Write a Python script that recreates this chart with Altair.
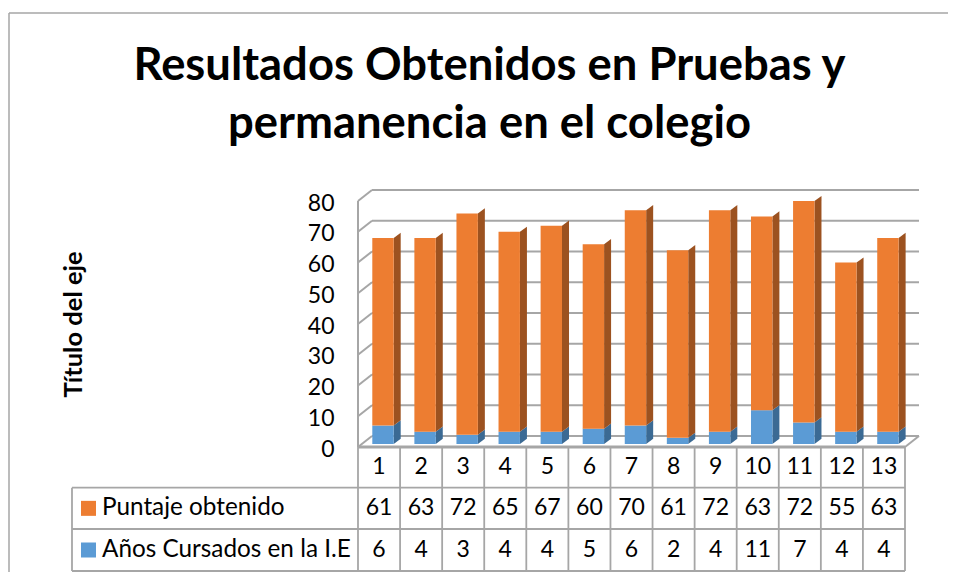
import altair as alt
import pandas as pd

categories = list(range(1, 14))
puntaje = [61, 63, 72, 65, 67, 60, 70, 61, 72, 63, 72, 55, 63]
anios = [6, 4, 3, 4, 4, 5, 6, 2, 4, 11, 7, 4, 4]
ticks = [0, 10, 20, 30, 40, 50, 60, 70, 80]
row_names = ["Puntaje obtenido", "Años Cursados en la I.E"]
title_lines = ["Resultados Obtenidos en  Pruebas y", "permanencia en el colegio"]
axis_title = "Título del eje"

# geometry
W, H = 547, 246
PXX = W / 13
PXY = H / 80
WALL_X, WALL_Y = 14 / PXX, 11 / PXY
BAR_L, BAR_W = 14.3 / PXX, 21.4 / PXX
D_X, D_Y = 7 / PXX, 5.2 / PXY
BASE = 3 / PXY
ROWS_PX = [0, 40.7, 82, 124]
ROW_Y = [-p / PXY for p in ROWS_PX]
ROW_C = [(ROW_Y[i] + ROW_Y[i + 1]) / 2 for i in range(3)]
LEFT_X = -286 / PXX
GREY = "#a6a6a6"
FONT = "Lato"
BLUE, ORANGE = "#5B9BD5", "#ED7D31"
X = alt.Scale(domain=[0, 13], nice=False, zero=False)
Y = alt.Scale(domain=[0, 80], nice=False, zero=False)
x_enc = alt.X("x:Q", scale=X, axis=None)
y_enc = alt.Y(
    "y:Q", scale=Y,
    axis=alt.Axis(
        values=ticks, title=axis_title, domain=False, ticks=False, grid=False,
        labelFont=FONT, labelFontSize=23, labelColor="#000000", labelPadding=24, labelOffset=2,
        titleFont=FONT, titleFontSize=25.5, titleFontWeight="bold", titleColor="#000000",
        titleX=-285, titleY=123, titleAngle=270, titleAlign="center", titleBaseline="middle",
    ),
)


def segs(rows):
    out = []
    for k, (x0, y0, x1, y1) in enumerate(rows):
        out += [dict(k=k, x=x0, y=y0), dict(k=k, x=x1, y=y1)]
    return pd.DataFrame(out)


def lines(rows, color, width):
    return alt.Chart(segs(rows)).mark_line(color=color, strokeWidth=width, clip=False).encode(
        x=x_enc, y=y_enc, detail="k:N", order="x:Q"
    )


# walls
wall_rows = [(WALL_X, t + WALL_Y, 13 + WALL_X, t + WALL_Y) for t in ticks]
wall_rows += [(0, t, WALL_X, t + WALL_Y) for t in ticks]
wall_rows += [(0, 0, 0, 80), (13, 0, 13 + WALL_X, WALL_Y)]
walls = lines(wall_rows, GREY, 2)

# table grid
table_rows = [(LEFT_X, r, 13, r) for r in ROW_Y[1:]]
table_rows += [(i, ROW_Y[0], i, ROW_Y[3]) for i in range(14)]
table_rows += [(LEFT_X, ROW_Y[1], LEFT_X, ROW_Y[3])]
table = lines(table_rows, GREY, 1.8)
floor_front = lines([(0, 0, 13, 0)], GREY, 3)

# outer frame
fx0, fx1 = -349 / PXX, 640 / PXX
fy0, fy1 = 434 / PXY, -170 / PXY
frame = lines([(fx0, fy0, fx1, fy0), (fx0, fy0, fx0, fy1)], GREY, 1.5)

# bars
totals = [a + p for a, p in zip(anios, puntaje)]


def faces(lows, highs):
    fronts, sides, tops = [], [], []
    for c, lo, hi in zip(categories, lows, highs):
        xl = c - 1 + BAR_L
        xr = xl + BAR_W
        yl, yh = lo + BASE, hi + BASE
        fronts.append(dict(x=xl, x2=xr, y=yl, y2=yh))
        sides += [
            dict(c=c, x=xr, y=yl, y2=yh),
            dict(c=c, x=xr + D_X, y=yl + D_Y, y2=yh + D_Y),
        ]
        tops += [
            dict(c=c, y=yh, x=xl, x2=xr),
            dict(c=c, y=yh + D_Y, x=xl + D_X, x2=xr + D_X),
        ]
    return pd.DataFrame(fronts), pd.DataFrame(sides), pd.DataFrame(tops)


def bar_layers(lows, highs, front, side, top=None):
    f, s, t = faces(lows, highs)
    out = [
        alt.Chart(s).mark_area(orient="vertical", clip=False, color=side).encode(
            x=x_enc, y=y_enc, y2="y2:Q", detail="c:N"
        )
    ]
    if top:
        out.append(
            alt.Chart(t).mark_area(orient="horizontal", clip=False, color=top).encode(
                y=y_enc, x=x_enc, x2="x2:Q", detail="c:N", order="y:Q"
            )
        )
    out.append(
        alt.Chart(f).mark_rect(color=front).encode(x=x_enc, x2="x2:Q", y=y_enc, y2="y2:Q")
    )
    return out


blue_layers = bar_layers([0] * 13, anios, BLUE, "#3B6A94")
orange_layers = bar_layers(anios, totals, ORANGE, "#9C5220", "#BC6020")

# table text
text_rows = []
for c in categories:
    text_rows.append(dict(x=c - 0.5, y=ROW_C[0], t=str(c)))
for c, p, a in zip(categories, puntaje, anios):
    text_rows.append(dict(x=c - 0.5, y=ROW_C[1], t=str(p)))
    text_rows.append(dict(x=c - 0.5, y=ROW_C[2], t=str(a)))
cells = alt.Chart(pd.DataFrame(text_rows)).mark_text(
    font=FONT, fontSize=23, color="#000000", align="center", baseline="middle", clip=False
).encode(x=x_enc, y=y_enc, text="t:N")

names = alt.Chart(pd.DataFrame({
    "x": [-256 / PXX, -256 / PXX], "y": ROW_C[1:], "t": row_names
})).mark_text(font=FONT, fontSize=24.3, color="#000000", align="left", baseline="middle").encode(
    x=x_enc, y=y_enc, text="t:N"
)

title_text = alt.Chart(pd.DataFrame({
    "x": [131.5 / PXX, 131.5 / PXX],
    "y": [367 / PXY, 309 / PXY],
    "t": title_lines,
})).mark_text(
    font=FONT, fontSize=45.4, fontWeight="bold", color="#000000", align="center", baseline="alphabetic"
).encode(x=x_enc, y=y_enc, text="t:N")


def swatch(row, color):
    return alt.Chart(pd.DataFrame({"x": [-269.5 / PXX], "y": [ROW_C[row]]})).mark_square(
        size=225, opacity=1, color=color
    ).encode(x=x_enc, y=y_enc)


chart = alt.layer(
    frame, walls, *blue_layers, *orange_layers, table, floor_front, cells, names, title_text,
    swatch(1, ORANGE), swatch(2, BLUE),
).properties(
    width=W,
    height=H,
    padding={"left": 350, "top": 193, "right": 43, "bottom": 125},
    autosize=alt.AutoSizeParams(type="none"),
    background="#ffffff",
).configure_view(stroke=None)

chart.save("out.html", embed_options={"renderer": "svg", "actions": False})
